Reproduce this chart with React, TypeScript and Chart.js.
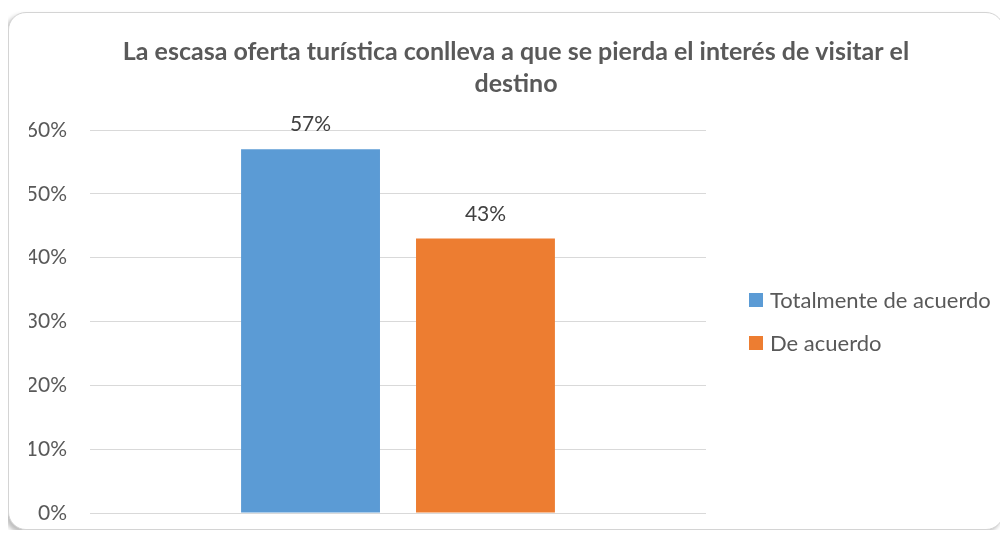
import React, { useEffect, useRef } from "react";
import { Chart, registerables } from "chart.js";

Chart.register(...registerables);

const categories = [""];
const seriesNames = ["Totalmente de acuerdo", "De acuerdo"];
const totalmenteValues = [57];
const deAcuerdoValues = [43];
const seriesColors = ["#5b9bd5", "#ed7d31"];
const yTickValues = [0, 10, 20, 30, 40, 50, 60];
const titleLines = [
  "La escasa oferta turística conlleva a que se pierda el interés de visitar el",
  "destino",
];

const FONT = "Lato, 'Open Sans', sans-serif";
const TEXT_COLOR = "#595959";

const dataLabelPlugin = {
  id: "dataLabelPlugin",
  afterDatasetsDraw(chart: any) {
    const ctx = chart.ctx;
    ctx.save();
    ctx.font = `21px ${FONT}`;
    ctx.fillStyle = "#404040";
    ctx.textAlign = "center";
    ctx.textBaseline = "alphabetic";
    chart.data.datasets.forEach((ds: any, i: number) => {
      chart.getDatasetMeta(i).data.forEach((bar: any, j: number) => {
        ctx.fillText(`${ds.data[j]}%`, bar.x, bar.y - 18);
      });
    });
    ctx.restore();
  },
};

const legendPlugin = {
  id: "sideLegend",
  afterDraw(chart: any) {
    const ctx = chart.ctx;
    const area = chart.chartArea;
    const cy = (area.top + area.bottom) / 2;
    const spacing = 43;
    const n = chart.data.datasets.length;
    ctx.save();
    ctx.font = `22px ${FONT}`;
    ctx.textBaseline = "middle";
    ctx.textAlign = "left";
    chart.data.datasets.forEach((ds: any, i: number) => {
      const y = cy + (i - (n - 1) / 2) * spacing;
      const x = area.right + 43;
      ctx.fillStyle = ds.backgroundColor;
      ctx.fillRect(x, y - 7, 14, 14);
      ctx.fillStyle = TEXT_COLOR;
      ctx.fillText(ds.label, x + 21, y + 1);
    });
    ctx.restore();
  },
};

export default function App() {
  const canvasRef = useRef<HTMLCanvasElement | null>(null);

  useEffect(() => {
    if (!canvasRef.current) return;
    const chart = new Chart(canvasRef.current, {
      type: "bar",
      data: {
        labels: categories,
        datasets: [
          {
            label: seriesNames[0],
            data: totalmenteValues,
            backgroundColor: seriesColors[0],
            categoryPercentage: 0.568,
            barPercentage: 0.794,
          },
          {
            label: seriesNames[1],
            data: deAcuerdoValues,
            backgroundColor: seriesColors[1],
            categoryPercentage: 0.568,
            barPercentage: 0.794,
          },
        ],
      },
      options: {
        responsive: false,
        animation: false,
        layout: { padding: { left: 20, right: 0, top: 0, bottom: 16 } },
        plugins: {
          legend: { display: false },
          tooltip: { enabled: false },
          title: {
            display: true,
            text: titleLines,
            color: TEXT_COLOR,
            font: { family: FONT, size: 25, weight: "bold", lineHeight: "32px" },
            padding: { top: 23, bottom: 30 },
          },
        },
        scales: {
          x: {
            display: false,
            grid: { display: false },
          },
          y: {
            min: 0,
            max: 60,
            afterBuildTicks(scale: any) {
              scale.ticks = yTickValues.map((v) => ({ value: v }));
            },
            afterFit(scale: any) {
              scale.width = 61;
              scale.paddingTop = 0;
              scale.paddingBottom = 0;
            },
            border: { display: false },
            grid: { color: "#d9d9d9", lineWidth: 1, drawTicks: false },
            ticks: {
              padding: 23,
              color: TEXT_COLOR,
              font: { family: FONT, size: 21 },
              callback: (v: any) => `${v}%`,
            },
          },
          legendSpace: {
            type: "linear",
            position: "right",
            display: true,
            grid: { display: false, drawTicks: false },
            border: { display: false },
            ticks: { display: false },
            afterFit(scale: any) {
              scale.width = 297;
              scale.paddingTop = 0;
              scale.paddingBottom = 0;
            },
          },
        },
      } as any,
      plugins: [dataLabelPlugin, legendPlugin],
    });
    return () => chart.destroy();
  }, []);

  return (
    <div
      style={{
        marginTop: 4,
        width: 996,
        height: 518,
        boxSizing: "border-box",
        border: "1px solid #d4d4d4",
        borderRadius: 18,
        boxShadow: "-3px 3px 4px rgba(0,0,0,0.25)",
        overflow: "hidden",
        background: "#fff",
      }}
    >
      <canvas ref={canvasRef} width={994} height={516} style={{ display: "block" }} />
    </div>
  );
}
